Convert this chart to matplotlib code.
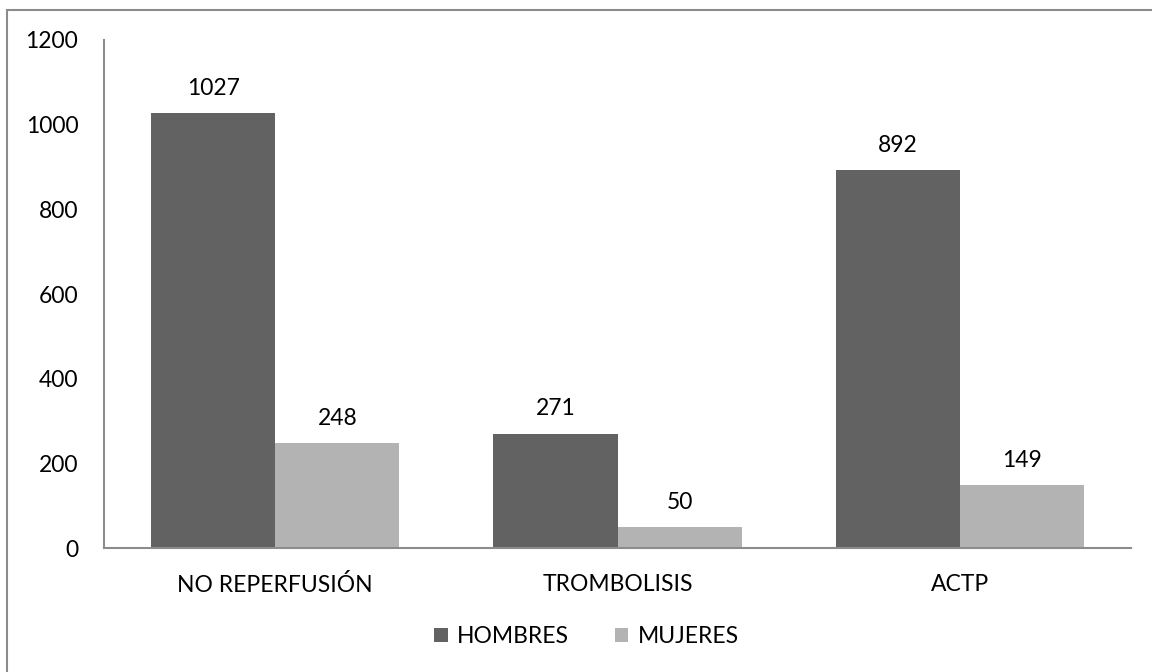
import matplotlib
matplotlib.use("Agg")
import matplotlib.pyplot as plt
import numpy as np
from matplotlib.patches import Rectangle

categories = ["NO REPERFUSIÓN", "TROMBOLISIS", "ACTP"]
hombres = [1027, 271, 892]
mujeres = [248, 50, 149]
series_names = ["HOMBRES", "MUJERES"]
yticks = [0, 200, 400, 600, 800, 1000, 1200]

plt.rcParams['font.family'] = ['Lato', 'DejaVu Sans']
FS = 16.5

fig = plt.figure(figsize=(11.52, 6.72), dpi=100)
ax = fig.add_axes([0.0903, 0.1838, 0.8915, 0.7567])

x = np.arange(len(categories))
w = 0.363
c1, c2 = "#626262", "#b3b3b3"
b1 = ax.bar(x - w/2, hombres, w, color=c1, label=series_names[0])
b2 = ax.bar(x + w/2, mujeres, w, color=c2, label=series_names[1])

for bars, vals in ((b1, hombres), (b2, mujeres)):
    for b, v in zip(bars, vals):
        ax.annotate(str(v), (b.get_x() + b.get_width()/2, v), xytext=(0, 13.5),
                    textcoords="offset points", ha="center", va="baseline", fontsize=FS)

ax.set_xlim(-0.5, 2.5)
ax.set_ylim(0, 1200)
ax.set_yticks(yticks)
ax.set_xticks(x)
ax.set_xticklabels(categories)
ax.tick_params(axis='both', length=0, labelsize=FS)
ax.tick_params(axis='x', pad=18.5)
ax.tick_params(axis='y', pad=18.5)
for s in ['top', 'right']:
    ax.spines[s].set_visible(False)
for s in ['left', 'bottom']:
    ax.spines[s].set_color('#8c8c8c')
    ax.spines[s].set_linewidth(1.5)

leg = fig.legend(loc='center', bbox_to_anchor=(0.509, 0.053), ncol=2, frameon=False,
                 fontsize=FS, handlelength=0.6, handleheight=0.6, columnspacing=2.0, handletextpad=0.4)

fig.patches.append(Rectangle((7/1152, -0.1), 1.2, (662/672) + 0.1,
                             transform=fig.transFigure, fill=False, edgecolor='#8c8c8c',
                             linewidth=1.5, clip_on=False))

fig.savefig("out.png", dpi=100)
